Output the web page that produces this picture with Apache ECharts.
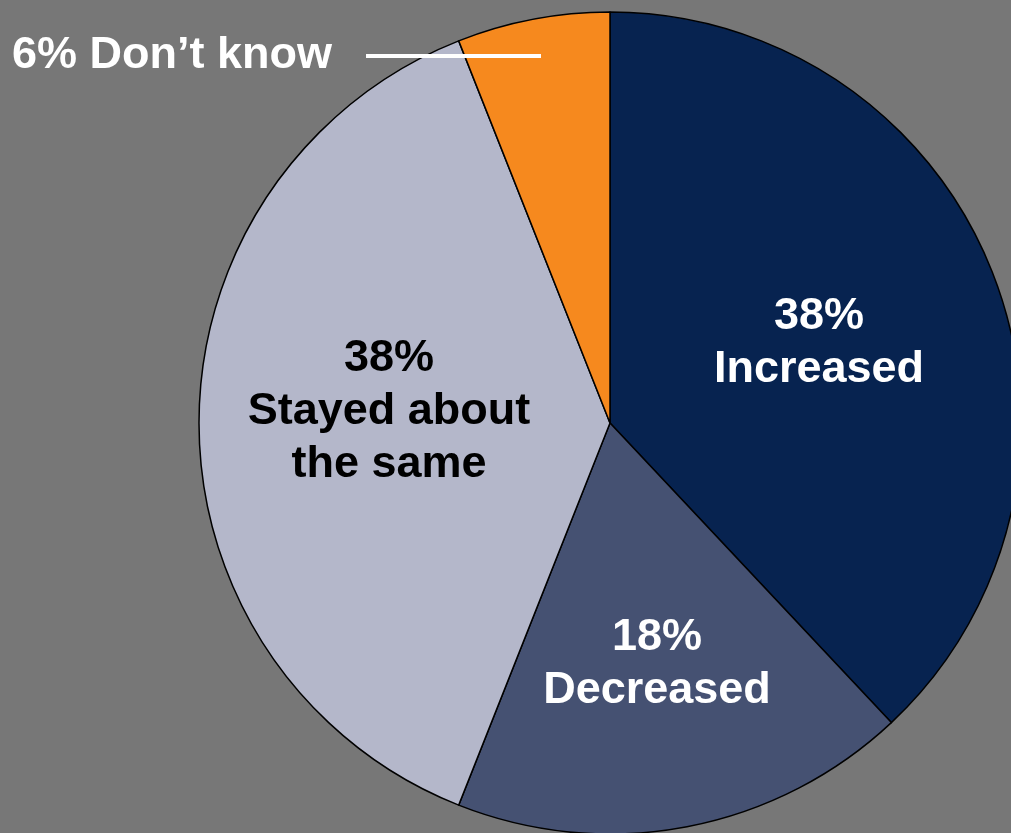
<!DOCTYPE html>
<html>
<head>
<meta charset="utf-8">
<script src="https://cdn.jsdelivr.net/npm/echarts@6/dist/echarts.min.js"></script>
<style>
  html, body { margin: 0; padding: 0; background: #777777; }
  #chart { width: 1011px; height: 833px; }
</style>
</head>
<body>
<div id="chart"></div>
<script>
let categories = ['Increased', 'Decreased', 'Stayed about the same', 'Don\u2019t know'];
let values = [38, 18, 38, 6];
let labelTexts = ['38%\nIncreased', '18%\nDecreased', '38%\nStayed about\nthe same', '6% Don\u2019t know'];
let colors = ['#072350', '#455172', '#b4b7ca', '#f6891e'];
let labelColors = ['#ffffff', '#ffffff', '#000000', '#ffffff'];

// where each label sits (centre of the text block)
let labelPos = [[819, 343], [657, 664], [389, 412], [12, 56]];

let chart = echarts.init(document.getElementById('chart'));

let data = values.map((v, i) => {
    let item = {
        name: categories[i],
        value: v,
        itemStyle: { color: colors[i] },
        label: {
            color: labelColors[i],
            formatter: labelTexts[i]
        }
    };
    if (i === 3) {
        // small slice: label outside on the left with a white leader bar
        item.label = {
            position: 'inside',
            overflow: 'none',
            formatter: '{t|' + labelTexts[i] + '}{gap| }{ln| }',
            rich: {
                t: { color: '#ffffff', fontSize: 45, fontWeight: 'bold', fontFamily: 'Liberation Sans, Arial, sans-serif' },
                gap: { width: 34, fontSize: 10, color: 'transparent' },
                ln: { width: 175, height: 4, lineHeight: 4, fontSize: 2, color: 'transparent', backgroundColor: '#ffffff' }
            }
        };
    }
    return item;
});

let option = {
    backgroundColor: '#777777',
    animation: false,
    series: [
        {
            type: 'pie',
            center: [610, 423],
            radius: 411,
            startAngle: 90,
            clockwise: true,
            silent: true,
            itemStyle: { borderColor: '#000000', borderWidth: 1.5 },
            label: {
                show: true,
                position: 'inside',
                fontSize: 45,
                fontWeight: 'bold',
                lineHeight: 53,
                align: 'center',
                fontFamily: 'Liberation Sans, Arial, sans-serif'
            },
            labelLine: { show: false },
            labelLayout: (params) => {
                let p = labelPos[params.dataIndex];
                return {
                    x: p[0],
                    y: p[1],
                    align: params.dataIndex === 3 ? 'left' : 'center',
                    verticalAlign: 'middle'
                };
            },
            data: data
        }
    ]
};
chart.setOption(option);
</script>
</body>
</html>
